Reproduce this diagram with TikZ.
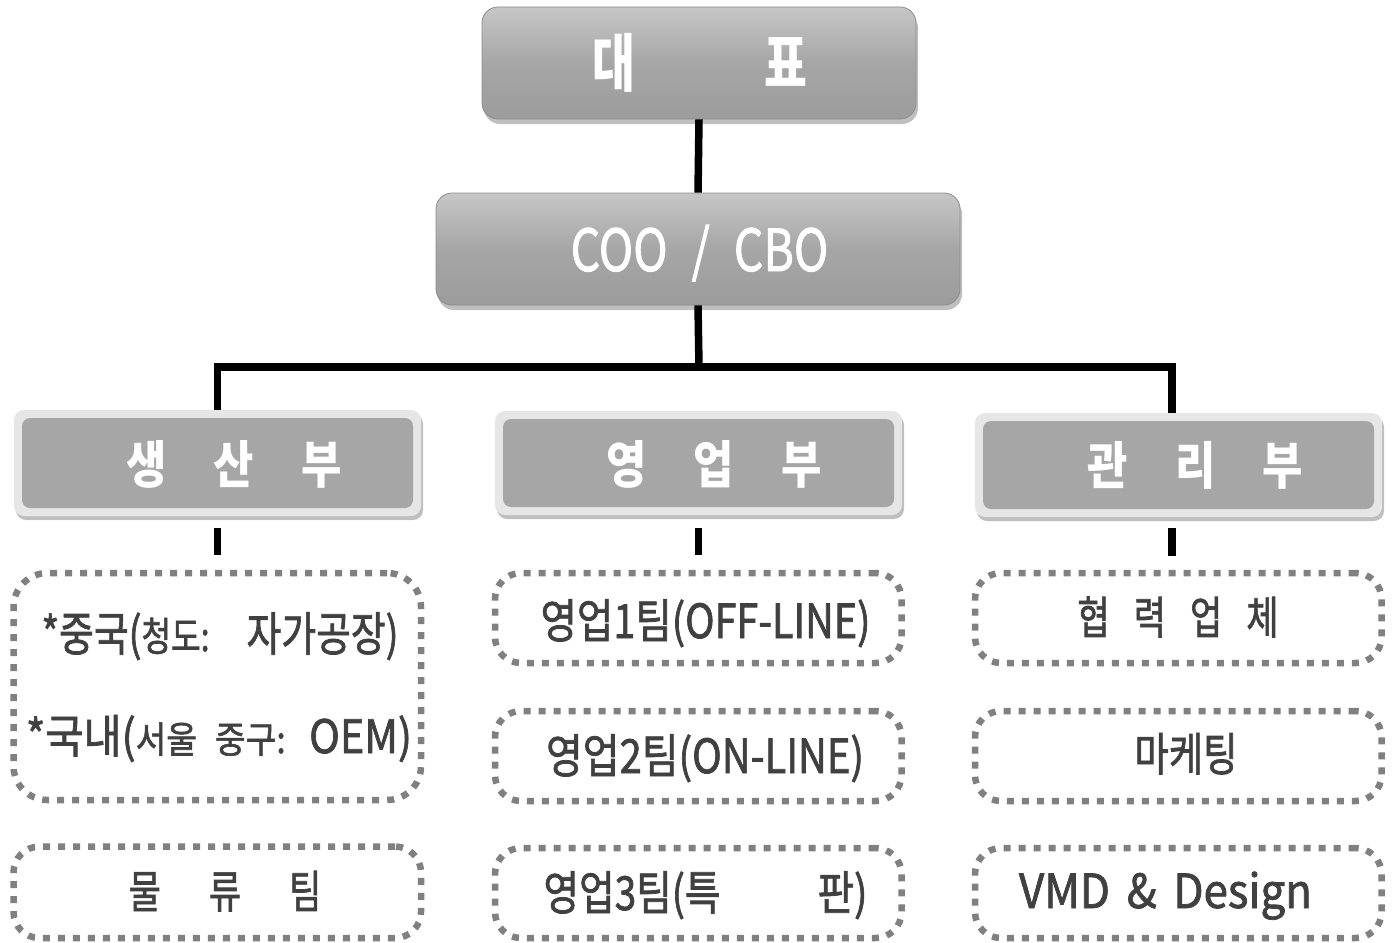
\documentclass[tikz,border=0pt]{standalone}
\usepackage{fontspec}
\usepackage{graphicx}
\newfontfamily\kr{Noto Sans CJK KR}
\newfontfamily\krm[FakeBold=1.6]{Noto Sans CJK KR}
\usetikzlibrary{shadows}
\definecolor{txtc}{HTML}{404040}
\definecolor{dotc}{HTML}{808080}
\definecolor{midg}{HTML}{A6A6A6}
\definecolor{lightg}{HTML}{C6C6C6}
\definecolor{darkg}{HTML}{9C9C9C}
\definecolor{rimg}{HTML}{E6E6E6}
\definecolor{edgeg}{HTML}{8C8C8C}
\newcommand{\fitw}[3]{\resizebox{#1}{\height}{\fontsize{#2}{#2}\selectfont #3}}
\newcommand{\hsc}[3]{\scalebox{#1}[1]{\fontsize{#2}{#2}\selectfont #3}}
\begin{document}
\begin{tikzpicture}[x=1pt,y=-1pt,
  topbox/.style={rectangle, rounded corners=16pt, draw=edgeg, line width=0.8pt,
    top color=lightg, bottom color=darkg, middle color=midg, inner sep=0pt,
    drop shadow={shadow xshift=2pt, shadow yshift=-5pt, opacity=0.25, fill=black}},
  rimbox/.style={rectangle, rounded corners=10pt, fill=rimg, inner sep=0pt,
    drop shadow={shadow xshift=2pt, shadow yshift=-4pt, opacity=0.25, fill=black}},
  corebox/.style={rectangle, rounded corners=8pt, fill=midg, inner sep=0pt},
  dotbox/.style={rectangle, rounded corners=26pt, draw=dotc, line width=6.5pt,
    dash pattern=on 7pt off 8pt, inner sep=0pt},
  wtitle/.style={text=white, font=\kr\bfseries, inner sep=0pt, anchor=base},
  wplain/.style={text=white, font=\krm, inner sep=0pt, anchor=base},
  dtext/.style={text=txtc, font=\krm, inner sep=0pt, anchor=base},
  link/.style={line width=7.5pt, black, line join=miter}
]
\fill[white] (0,0) rectangle (1394,942);
\useasboundingbox (0,0) rectangle (1394,942);

% level 1 and 2
\node[topbox, minimum width=434pt, minimum height=112pt] (top) at (699,63) {};
\node[topbox, minimum width=524pt, minimum height=112pt] (coo) at (698,249) {};
\node[wtitle] (ttop) at (700,86) {\hsc{0.74}{63}{대}\hspace{129pt}\hsc{0.74}{63}{표}};
\node[wplain] (tcoo) at (699.5,271) {\hsc{0.8}{58}{COO}\hspace{24pt}\hsc{0.8}{58}{/}\hspace{24pt}\hsc{0.8}{58}{CBO}};

% level 3
\node[rimbox, minimum width=407pt, minimum height=106pt] (prodr) at (217.5,463) {};
\node[corebox, minimum width=391pt, minimum height=90pt] (prodc) at (217.5,463) {};
\node[rimbox, minimum width=407pt, minimum height=104pt] (salesr) at (698.5,463) {};
\node[corebox, minimum width=391pt, minimum height=88pt] (salesc) at (698.5,463) {};
\node[rimbox, minimum width=407pt, minimum height=104pt] (adminr) at (1178.5,465) {};
\node[corebox, minimum width=391pt, minimum height=88pt] (adminc) at (1178.5,465) {};

\node[wtitle] (tprod) at (234,483) {\hsc{0.86}{51}{생}\hspace{47pt}\hsc{0.86}{51}{산}\hspace{47pt}\hsc{0.86}{51}{부}};
\node[wtitle] (tsales) at (714,483) {\hsc{0.86}{51}{영}\hspace{47pt}\hsc{0.86}{51}{업}\hspace{47pt}\hsc{0.86}{51}{부}};
\node[wtitle] (tadmin) at (1195.5,484) {\hsc{0.86}{51}{관}\hspace{47pt}\hsc{0.86}{51}{리}\hspace{47pt}\hsc{0.86}{51}{부}};

% dotted team boxes
\node[dotbox, rounded corners=34pt, minimum width=407.5pt, minimum height=227pt] (p1) at (217.25,686.5) {};
\node[dotbox, minimum width=407.5pt, minimum height=91.5pt] (p2) at (217.25,892.25) {};
\node[dotbox, minimum width=406.5pt, minimum height=90pt] (m1) at (698.25,618) {};
\node[dotbox, minimum width=406.5pt, minimum height=90pt] (m2) at (698.25,756) {};
\node[dotbox, minimum width=406.5pt, minimum height=90pt] (m3) at (698.25,893) {};
\node[dotbox, minimum width=406.5pt, minimum height=90pt] (r1) at (1178.25,618) {};
\node[dotbox, minimum width=406.5pt, minimum height=90pt] (r2) at (1178.25,756) {};
\node[dotbox, minimum width=406.5pt, minimum height=90pt] (r3) at (1178.25,893) {};

% team texts
\node[dtext] (p1a) at (220,651) {\resizebox{357pt}{\height}{\fontsize{47}{47}\selectfont *중국({\fontsize{40}{40}\selectfont 청도:}\hspace{46pt}자가공장)}};
\node[dtext] (p1b) at (219,753) {\resizebox{386pt}{\height}{\fontsize{46}{46}\selectfont *국내({\fontsize{37}{37}\selectfont 서울\hspace{20pt}중구:}\hspace{26pt}OEM)}};
\node[dtext] (p2t) at (225,908) {\hsc{0.78}{45}{물}\hspace{48pt}\hsc{0.78}{45}{류}\hspace{48pt}\hsc{0.78}{45}{팀}};
\node[dtext] (m1t) at (705.5,638) {\fitw{330pt}{47}{영업1팀(OFF-LINE)}};
\node[dtext] (m2t) at (705,773) {\fitw{318pt}{47}{영업2팀(ON-LINE)}};
\node[dtext] (m3t) at (705.5,910) {\fitw{177pt}{47}{영업3팀(특}\hspace{97pt}\fitw{50pt}{47}{판)}};
\node[dtext] (r1t) at (1178,634) {\hsc{0.78}{45}{협}\hspace{24pt}\hsc{0.78}{45}{력}\hspace{24pt}\hsc{0.78}{45}{업}\hspace{24pt}\hsc{0.78}{45}{체}};
\node[dtext] (r2t) at (1186,771) {\fitw{103pt}{46}{마케팅}};
\node[dtext] (r3t) at (1165.5,908) {\fitw{293pt}{47}{VMD\hspace{18pt}\&\hspace{18pt}Design}};

% connectors
\coordinate (bus) at (699,367);
\draw[link] (top.south) -- (coo.north);
\draw[link] (coo.south) -- (bus);
\draw[link] (prodr.north) |- (bus) -| ([xshift=-6.5pt]adminr.north);
\draw[link, shorten <=12pt, shorten >=15pt] (prodr.south) -- (prodr.south |- p1.north);
\draw[link, shorten <=13pt, shorten >=15pt] (salesr.south) -- (salesr.south |- m1.north);
\draw[link, shorten <=11pt, shorten >=14pt] ([xshift=-6.5pt]adminr.south) -- ([xshift=-6.5pt]adminr.south |- r1.north);
\end{tikzpicture}
\end{document}
